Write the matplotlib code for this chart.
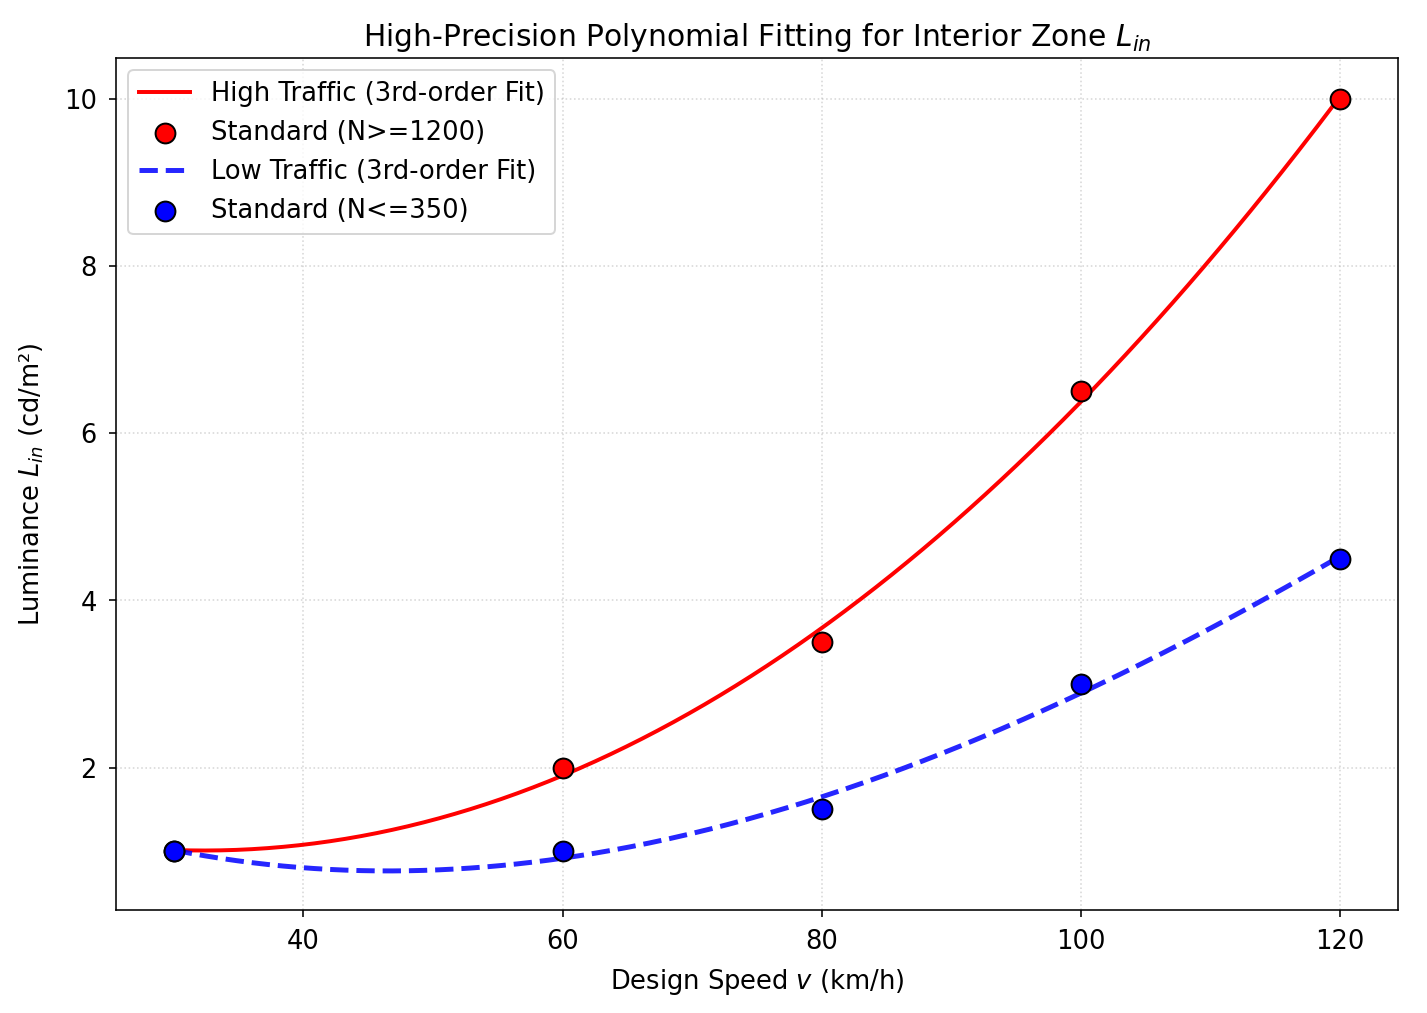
import numpy as np
import matplotlib
matplotlib.use('Agg')
from matplotlib import pyplot as plt

speeds = np.array([30, 60, 80, 100, 120])
lum_high = np.array([1.0, 2.0, 3.5, 6.5, 10.0])   # N>=1200
lum_low = np.array([1.0, 1.0, 1.5, 3.0, 4.5])     # N<=350

# 3rd order fits
p_high = np.polyfit(speeds, lum_high, 3)
p_low = np.polyfit(speeds, lum_low, 3)
v = np.linspace(speeds.min(), speeds.max(), 300)

fig, ax = plt.subplots(figsize=(10, 7.1), dpi=142.7)

ax.plot(v, np.polyval(p_high, v), color='red', lw=2, label='High Traffic (3rd-order Fit)')
ax.scatter(speeds, lum_high, s=100, color='red', edgecolors='black', zorder=5,
           label='Standard (N>=1200)')
ax.plot(v, np.polyval(p_low, v), color='blue', lw=2.5, ls='--', alpha=0.85,
        label='Low Traffic (3rd-order Fit)')
ax.scatter(speeds, lum_low, s=100, color='blue', edgecolors='black', zorder=5,
           label='Standard (N<=350)')

ax.set_title('High-Precision Polynomial Fitting for Interior Zone $L_{in}$', fontsize=15)
ax.set_xlabel('Design Speed $v$ (km/h)', fontsize=13, labelpad=6)
ax.set_ylabel('Luminance $L_{in}$ (cd/m²)', fontsize=13, labelpad=9)
ax.tick_params(labelsize=13, pad=6)
ax.grid(True, linestyle=':', alpha=0.5)
ax.legend(fontsize=13, loc='upper left')

fig.subplots_adjust(left=0.081, right=0.98, top=0.943, bottom=0.102)
plt.savefig('out.png')
